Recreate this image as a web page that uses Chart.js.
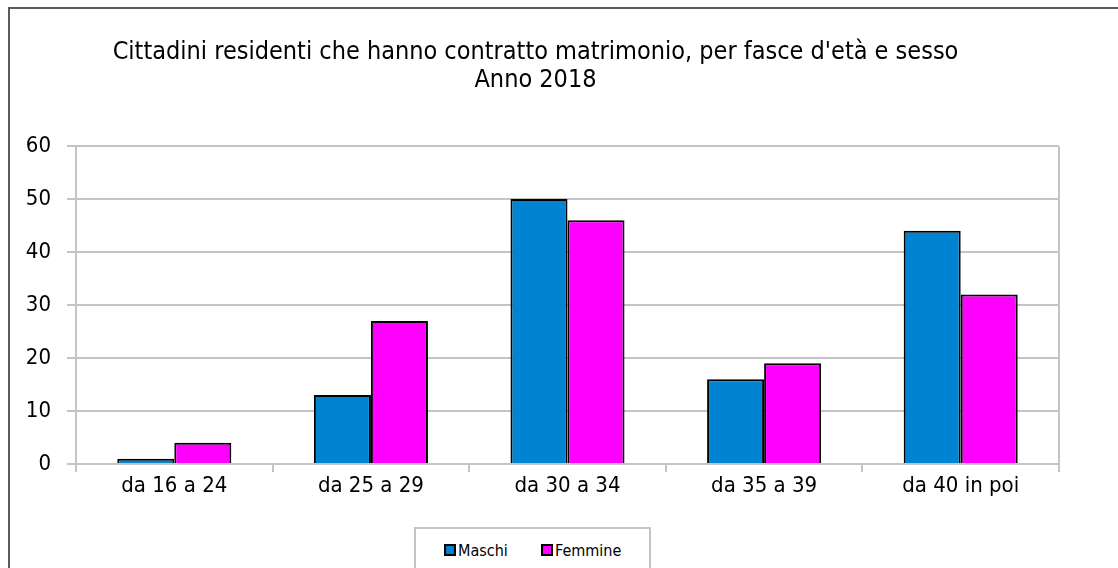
<!DOCTYPE html>
<html>
<head>
<meta charset="utf-8">
<script src="https://cdn.jsdelivr.net/npm/chart.js@4.4.0/dist/chart.umd.min.js"></script>
<style>
  body { margin: 0; background: #fff; overflow: hidden; }
  #wrap { position: relative; width: 1118px; height: 568px; }
  #frame { position: absolute; left: 8px; top: 7px; width: 1200px; height: 700px; border: 2px solid #5a5a5a; }
  canvas { position: absolute; left: 0; top: 0; }
  #legend {
    position: absolute; left: 414px; top: 527px; width: 233px; height: 60px;
    border: 2px solid #c4c4c4; background: #fff;
    font-family: "DejaVu Sans Condensed", "DejaVu Sans", sans-serif; font-size: 16px; color: #000;
  }
  #legend span.item { position: absolute; top: 12px; white-space: nowrap; }
  #legend i { display: inline-block; width: 8px; height: 8px; border: 2px solid #000; margin-right: 2px; vertical-align: 0px; }
</style>
</head>
<body>
<div id="wrap">
  <div id="frame"></div>
  <canvas id="chart" width="1118" height="568"></canvas>
  <div id="legend"></div>
</div>
<script>
// dati
const categories = ['da 16 a 24', 'da 25 a 29', 'da 30 a 34', 'da 35 a 39', 'da 40 in poi'];
const maschi = [1, 13, 50, 16, 44];
const femmine = [4, 27, 46, 19, 32];
const seriesNames = ['Maschi', 'Femmine'];
const seriesColors = ['#0084d1', '#ff00ff'];
const titleLines = ["Cittadini residenti che hanno contratto matrimonio, per fasce d'età e sesso", 'Anno 2018'];

const fontFamily = '"DejaVu Sans Condensed", "DejaVu Sans", sans-serif';
const gridColor = '#c4c4c4';

// bordo destro dell'area del grafico
const plotBorder = {
  id: 'plotBorder',
  afterDatasetsDraw(chart) {
    const { ctx, chartArea: a } = chart;
    ctx.save();
    ctx.strokeStyle = gridColor;
    ctx.lineWidth = 2;
    ctx.beginPath();
    ctx.moveTo(a.right, a.top);
    ctx.lineTo(a.right, a.bottom + 8);
    ctx.stroke();
    ctx.restore();
  }
};

new Chart(document.getElementById('chart'), {
  type: 'bar',
  data: {
    labels: categories,
    datasets: [
      { label: seriesNames[0], data: maschi, backgroundColor: seriesColors[0], borderColor: '#000', borderWidth: 2 },
      { label: seriesNames[1], data: femmine, backgroundColor: seriesColors[1], borderColor: '#000', borderWidth: 2 }
    ]
  },
  options: {
    responsive: false,
    animation: false,
    layout: { padding: { left: 12, right: 59, top: 0, bottom: 0 } },
    datasets: { bar: { categoryPercentage: 0.58, barPercentage: 1 } },
    plugins: {
      legend: { display: false },
      tooltip: { enabled: false },
      title: {
        display: true,
        text: titleLines,
        color: '#000',
        font: { family: fontFamily, size: 25, weight: 'normal', lineHeight: 1.12 },
        padding: { top: 38, bottom: 52 }
      }
    },
    scales: {
      x: {
        grid: { offset: true, drawOnChartArea: false, color: gridColor, lineWidth: 2, tickLength: 8 },
        border: { color: gridColor, width: 2 },
        ticks: { color: '#000', font: { family: fontFamily, size: 22 }, padding: 1, maxRotation: 0 },
        afterFit(scale) { scale.height = 104; }
      },
      y: {
        min: 0, max: 60,
        ticks: { stepSize: 10, color: '#000', font: { family: fontFamily, size: 22 }, padding: 16 },
        grid: { color: gridColor, lineWidth: 2, tickLength: 9 },
        border: { color: gridColor, width: 2 },
        afterFit(scale) { scale.width = 64; }
      }
    }
  },
  plugins: [plotBorder]
});

// legenda
const legend = document.getElementById('legend');
const legendX = [28, 125];
seriesNames.forEach((name, i) => {
  const s = document.createElement('span');
  s.className = 'item';
  s.style.left = legendX[i] + 'px';
  s.innerHTML = '<i style="background:' + seriesColors[i] + '"></i>' + name;
  legend.appendChild(s);
});
</script>
</body>
</html>
